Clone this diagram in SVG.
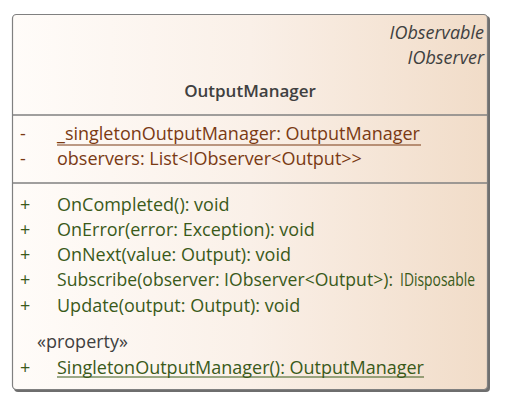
<svg xmlns="http://www.w3.org/2000/svg" width="506" height="410" viewBox="0 0 506 410">
<defs>
<linearGradient id="bg" x1="0" y1="0" x2="1" y2="0">
<stop offset="0" stop-color="#fffcf9"/>
<stop offset="0.5" stop-color="#faf0e8"/>
<stop offset="1" stop-color="#f1dcc8"/>
</linearGradient>
<style>
text{font-family:"Open Sans","Noto Sans","DejaVu Sans",sans-serif;font-size:18px}
.hd{fill:#404040}
.it{font-style:italic;fill:#404040}
.b{font-weight:600;font-size:17px}
.at{fill:#7a3a14}
.op{fill:#3a5a1a}
.sep{stroke:#808080;stroke-width:1.5}
</style>
</defs>
<g id="OutputManager">
<rect x="14" y="16" width="476" height="376" rx="4" fill="#6e6e6e"/>
<rect x="12.5" y="14.5" width="475" height="375" rx="4" fill="url(#bg)" stroke="#808080" stroke-width="1.2"/>
<text class="it" x="484" y="39" text-anchor="end">IObservable</text>
<text class="it" x="484" y="64" text-anchor="end">IObserver</text>
<text class="hd b" x="250" y="97" text-anchor="middle">OutputManager</text>
<line class="sep" x1="12.5" y1="115" x2="487.5" y2="115"/>
<text class="at" x="20" y="140">-</text>
<text class="at" x="57" y="140">_singletonOutputManager: OutputManager</text>
<line x1="57" y1="145" x2="421" y2="145" stroke="#7a3a14" stroke-width="1.2"/>
<text class="at" x="20" y="165">-</text>
<text class="at" x="57" y="165">observers: List&lt;IObserver&lt;Output&gt;&gt;</text>
<line class="sep" x1="12.5" y1="183" x2="487.5" y2="183"/>
<text class="op" x="20" y="211">+</text>
<text class="op" x="57" y="211">OnCompleted(): void</text>
<text class="op" x="20" y="236">+</text>
<text class="op" x="57" y="236">OnError(error: Exception): void</text>
<text class="op" x="20" y="261">+</text>
<text class="op" x="57" y="261">OnNext(value: Output): void</text>
<text class="op" x="20" y="286">+</text>
<text class="op" x="57" y="286" textLength="336" lengthAdjust="spacingAndGlyphs">Subscribe(observer: IObserver&lt;Output&gt;):</text>
<text class="op" x="400" y="286" textLength="75" lengthAdjust="spacingAndGlyphs">IDisposable</text>
<text class="op" x="20" y="312">+</text>
<text class="op" x="57" y="312">Update(output: Output): void</text>
<text class="hd" x="37" y="348">«property»</text>
<text class="op" x="20" y="374">+</text>
<text class="op" x="57" y="374">SingletonOutputManager(): OutputManager</text>
<line x1="57" y1="377" x2="424" y2="377" stroke="#3a5a1a" stroke-width="1.2"/>
</g>
<g id="connectors"/>
</svg>
